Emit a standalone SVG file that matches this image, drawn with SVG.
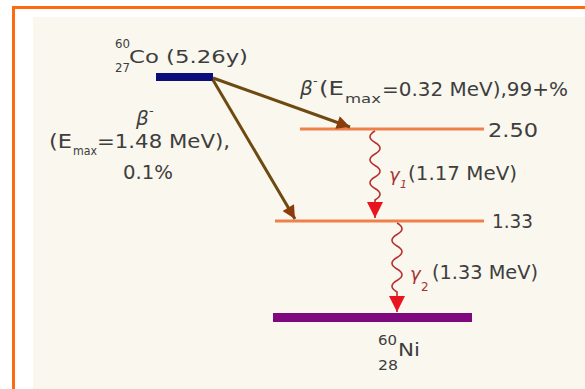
<svg xmlns="http://www.w3.org/2000/svg" width="585" height="389" viewBox="0 0 585 389">
<style>
.t{font-family:"DejaVu Sans","Liberation Sans",sans-serif;fill:#3e3e3e}
.g{font-family:"DejaVu Sans","Liberation Sans",sans-serif;fill:#a83232;font-style:italic}
.lvl{stroke:#f0804a;stroke-width:3}
.beta{stroke:#6e4a12;stroke-width:3;fill:none}
.gam{stroke:#b83030;stroke-width:1.6;fill:none}
</style>
<defs>
<marker id="ab" viewBox="0 0 10 10" refX="10" refY="5" markerWidth="5.5" markerHeight="4.4" markerUnits="strokeWidth" orient="auto">
<path d="M0,0 L10,5 L0,10 Z" fill="#8a3c0c"/>
</marker>
<marker id="ag" viewBox="0 0 10 10" refX="10" refY="5" markerWidth="12" markerHeight="10" markerUnits="strokeWidth" orient="auto">
<path d="M0,0 L10,5 L0,10 Z" fill="#e8141e"/>
</marker>
</defs>
<rect width="585" height="389" fill="#ffffff"/>
<rect x="33" y="17" width="552" height="372" fill="#f9f7ee"/>
<path d="M13.5,389 V7.5 H585" stroke="#ff6a10" stroke-width="3" fill="none"/>

<g id="co60">
<rect x="156" y="73" width="57" height="8" fill="#0c0c7a"/>
<text class="t" x="115" y="48" font-size="13" textLength="15" lengthAdjust="spacingAndGlyphs">60</text>
<text class="t" x="115" y="72" font-size="13" textLength="15" lengthAdjust="spacingAndGlyphs">27</text>
<text class="t" x="129" y="63" font-size="18" textLength="119" lengthAdjust="spacingAndGlyphs">Co (5.26y)</text>
</g>

<g id="level250">
<line class="lvl" x1="300" y1="129" x2="484" y2="129"/>
<text class="t" x="488" y="137" font-size="19" textLength="50" lengthAdjust="spacingAndGlyphs">2.50</text>
</g>

<g id="level133">
<line class="lvl" x1="275" y1="221" x2="484" y2="221"/>
<text class="t" x="492" y="228" font-size="19" textLength="41" lengthAdjust="spacingAndGlyphs">1.33</text>
</g>

<g id="ni60">
<rect x="273" y="313" width="199" height="9" fill="#80087e"/>
<text class="t" x="378" y="345" font-size="14" textLength="19" lengthAdjust="spacingAndGlyphs">60</text>
<text class="t" x="398" y="356" font-size="18" textLength="22" lengthAdjust="spacingAndGlyphs">Ni</text>
<text class="t" x="378" y="370" font-size="14" textLength="20" lengthAdjust="spacingAndGlyphs">28</text>
</g>

<g id="connectors">
<line class="beta" x1="213" y1="78" x2="350" y2="127" marker-end="url(#ab)"/>
<line class="beta" x1="213" y1="80" x2="295" y2="219" marker-end="url(#ab)"/>
<path class="gam" d="M375,131 q-10,5.75 0,11.5 q10,5.75 0,11.5 q-10,5.75 0,11.5 q10,5.75 0,11.5 q-10,5.75 0,11.5 q10,5.75 0,11.5 L375,218" marker-end="url(#ag)"/>
<path class="gam" d="M397,223 q10,5.75 0,11.5 q-10,5.75 0,11.5 q10,5.75 0,11.5 q-10,5.75 0,11.5 q10,5.75 0,11.5 q-10,5.75 0,11.5 L397,312" marker-end="url(#ag)"/>
</g>

<g id="labels">
<text class="t" x="136" y="125" font-size="20" font-style="italic">β</text>
<text class="t" x="149" y="115" font-size="13">-</text>
<text class="t" x="49" y="148" font-size="19" textLength="23" lengthAdjust="spacingAndGlyphs">(E</text>
<text class="t" x="73" y="155" font-size="12" textLength="24" lengthAdjust="spacingAndGlyphs">max</text>
<text class="t" x="97" y="148" font-size="19" textLength="133" lengthAdjust="spacingAndGlyphs">=1.48 MeV),</text>
<text class="t" x="123" y="179" font-size="19" textLength="50" lengthAdjust="spacingAndGlyphs">0.1%</text>

<text class="t" x="300" y="95" font-size="20" font-style="italic">β</text>
<text class="t" x="313" y="85" font-size="13">-</text>
<text class="t" x="319" y="95" font-size="19" textLength="25" lengthAdjust="spacingAndGlyphs">(E</text>
<text class="t" x="345" y="103" font-size="13" textLength="36" lengthAdjust="spacingAndGlyphs">max</text>
<text class="t" x="382" y="96" font-size="19" textLength="186" lengthAdjust="spacingAndGlyphs">=0.32 MeV),99+%</text>

<text class="g" x="389" y="181" font-size="18">γ</text>
<text class="g" x="400" y="188" font-size="11">1</text>
<text class="t" x="408" y="180" font-size="19" textLength="109" lengthAdjust="spacingAndGlyphs">(1.17 MeV)</text>
<text class="g" x="410" y="280" font-size="18">γ</text>
<text class="t" x="421" y="291" font-size="12" style="fill:#a83232">2</text>
<text class="t" x="432" y="279" font-size="19" textLength="106" lengthAdjust="spacingAndGlyphs">(1.33 MeV)</text>
</g>
</svg>
